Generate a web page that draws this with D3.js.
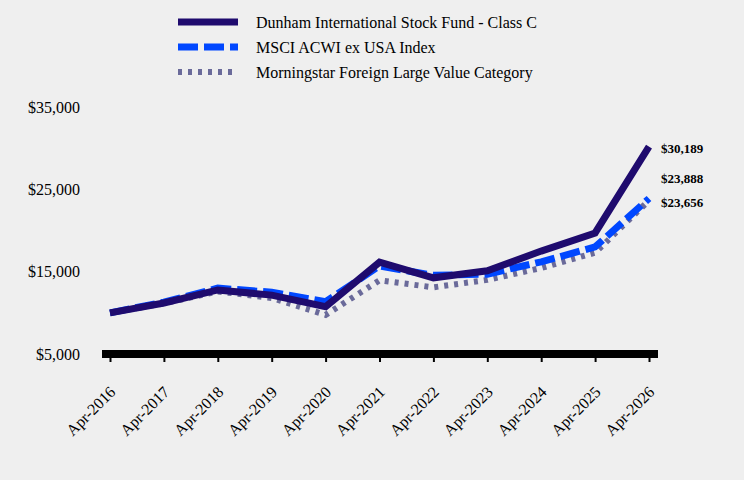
<!DOCTYPE html>
<html lang="en">
<head>
    <meta charset="UTF-8">
    <title>Growth of $10,000</title>
    <script src="https://d3js.org/d3.v7.min.js"></script>
    <style>
        body {
            margin: 0;
            padding: 0;
            background-color: #efefef;
        }
        svg {
            display: block;
            font-family: 'Liberation Serif', 'Times New Roman', serif;
        }
    </style>
</head>
<body>
    <svg id="chart" width="744" height="480"></svg>
    <script>
        // dados
        const periods = ["Apr-2016", "Apr-2017", "Apr-2018", "Apr-2019", "Apr-2020", "Apr-2021",
            "Apr-2022", "Apr-2023", "Apr-2024", "Apr-2025", "Apr-2026"];
        const fundValues = [10000, 11200, 12780, 12150, 10750, 16150, 14250, 15100, 17500, 19700, 30189];
        const acwiValues = [10000, 11300, 13000, 12500, 11350, 15700, 14550, 14700, 16200, 18000, 23888];
        const categoryValues = [10000, 11150, 12600, 11800, 9750, 13950, 13100, 14000, 15450, 17300, 23656];
        const yTicks = [5000, 15000, 25000, 35000];

        const series = [
            { name: "Dunham International Stock Fund - Class C", values: fundValues, color: "#1f0b6e", width: 7, dash: null },
            { name: "MSCI ACWI ex USA Index", values: acwiValues, color: "#0047ff", width: 7, dash: "20,6" },
            { name: "Morningstar Foreign Large Value Category", values: categoryValues, color: "#6a6a9a", width: 6, dash: "4,6" }
        ];

        const svg = d3.select("#chart");

        const x = d3.scalePoint().domain(periods).range([110, 649]);
        const y = d3.scaleLinear().domain([5000, 35000]).range([354, 107]);

        // eixo Y (sem linha)
        const yAxis = svg.append("g")
            .attr("transform", "translate(80,0)")
            .call(d3.axisLeft(y).tickValues(yTicks).tickSize(0).tickPadding(0).tickFormat(d => "$" + d3.format(",")(d)));
        yAxis.select(".domain").remove();
        yAxis.selectAll("text")
            .attr("font-family", "'Liberation Serif', serif")
            .attr("font-size", 16)
            .attr("fill", "#000");

        // linhas
        const line = d3.line()
            .x((d, i) => x(periods[i]))
            .y(d => y(d));

        series.slice().reverse().forEach(s => {
            svg.append("path")
                .datum(s.values)
                .attr("d", line)
                .attr("fill", "none")
                .attr("stroke", s.color)
                .attr("stroke-width", s.width)
                .attr("stroke-dasharray", s.dash)
                .attr("stroke-linejoin", "miter");
        });

        // eixo X com barra grossa
        svg.append("rect")
            .attr("x", 102)
            .attr("y", 350)
            .attr("width", 556)
            .attr("height", 8)
            .attr("fill", "#000");

        const xAxis = svg.append("g")
            .attr("transform", "translate(0,358)")
            .call(d3.axisBottom(x).tickSize(4).tickPadding(6));
        xAxis.select(".domain").remove();
        xAxis.selectAll("line").attr("stroke", "#000").attr("stroke-width", 2);
        xAxis.selectAll("text")
            .attr("font-family", "'Liberation Serif', serif")
            .attr("font-size", 16)
            .attr("fill", "#000")
            .attr("text-anchor", "end")
            .attr("y", 0)
            .attr("dy", 0)
            .attr("transform", "translate(6,35) rotate(-45)");

        // rótulos finais
        const last = periods.length - 1;
        const endLabels = [
            { value: fundValues[last], yPos: 148 },
            { value: acwiValues[last], yPos: 178 },
            { value: categoryValues[last], yPos: 202 }
        ];
        svg.selectAll(".end-label")
            .data(endLabels)
            .enter()
            .append("text")
            .attr("class", "end-label")
            .attr("x", x(periods[last]) + 12)
            .attr("y", d => d.yPos)
            .attr("dy", "0.35em")
            .attr("font-size", 13)
            .attr("font-weight", "bold")
            .attr("fill", "#000")
            .text(d => "$" + d3.format(",")(d.value));

        // legenda
        const legend = svg.append("g");
        series.forEach((s, i) => {
            const ly = 22 + i * 25;
            legend.append("line")
                .attr("x1", 178)
                .attr("x2", 238)
                .attr("y1", ly)
                .attr("y2", ly)
                .attr("stroke", s.color)
                .attr("stroke-width", s.width)
                .attr("stroke-dasharray", s.dash);
            legend.append("text")
                .attr("x", 256)
                .attr("y", ly)
                .attr("dy", "0.35em")
                .attr("font-size", 16)
                .attr("fill", "#000")
                .text(s.name);
        });
    </script>
</body>
</html>
